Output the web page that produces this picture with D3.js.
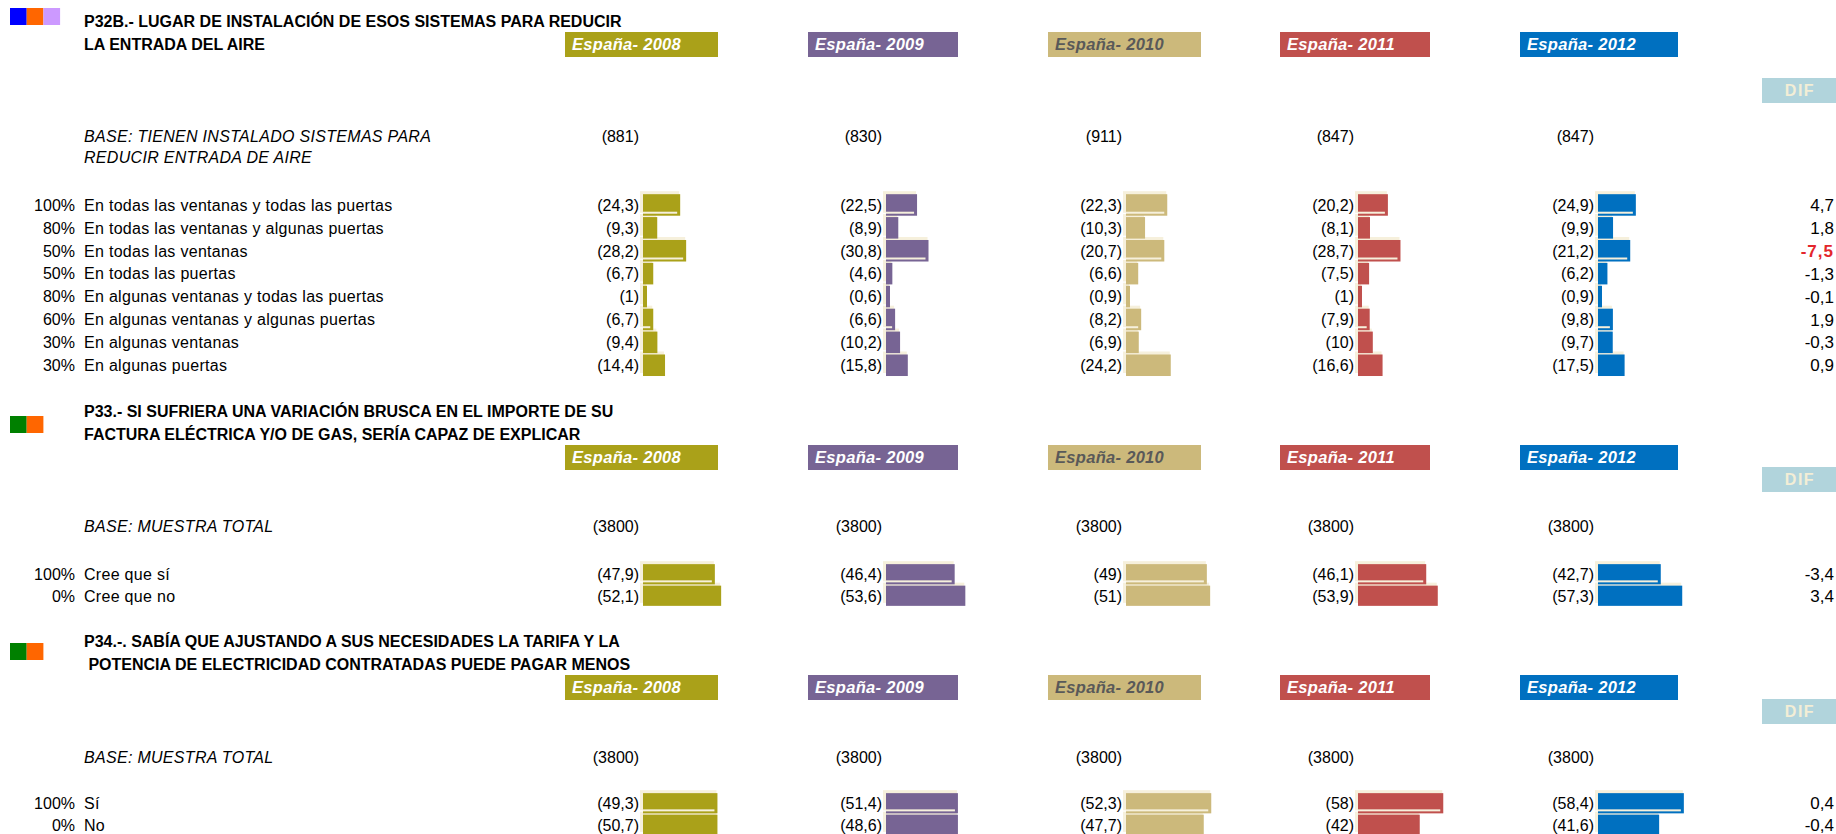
<!DOCTYPE html>
<html>
<head>
<meta charset="utf-8">
<script src="https://cdn.jsdelivr.net/npm/d3@7"></script>
<style>
    body { margin: 0; background: #fff; }
    text { font-family: "Liberation Sans", Arial, sans-serif; }
</style>
</head>
<body>
<div id="chart"></div>
<script>
// Column headers
var years = ["2008", "2009", "2010", "2011", "2012"];
var yearLabels = ["España- 2008", "España- 2009", "España- 2010", "España- 2011", "España- 2012"];

// P32B
var p32Title = ["P32B.- LUGAR DE INSTALACIÓN DE ESOS SISTEMAS PARA REDUCIR", "LA ENTRADA DEL AIRE"];
var p32Base = ["BASE: TIENEN INSTALADO SISTEMAS PARA", "REDUCIR ENTRADA DE AIRE"];
var p32Counts = [881, 830, 911, 847, 847];
var p32Pct = ["100%", "80%", "50%", "50%", "80%", "60%", "30%", "30%"];
var p32Items = [
    "En todas las ventanas y todas las puertas",
    "En todas las ventanas y algunas puertas",
    "En todas las ventanas",
    "En todas las puertas",
    "En algunas ventanas y todas las puertas",
    "En algunas ventanas y algunas puertas",
    "En algunas ventanas",
    "En algunas puertas"
];
var p32Values = [
    [24.3, 9.3, 28.2, 6.7, 1, 6.7, 9.4, 14.4],
    [22.5, 8.9, 30.8, 4.6, 0.6, 6.6, 10.2, 15.8],
    [22.3, 10.3, 20.7, 6.6, 0.9, 8.2, 6.9, 24.2],
    [20.2, 8.1, 28.7, 7.5, 1, 7.9, 10, 16.6],
    [24.9, 9.9, 21.2, 6.2, 0.9, 9.8, 9.7, 17.5]
];
var p32Dif = [4.7, 1.8, -7.5, -1.3, -0.1, 1.9, -0.3, 0.9];

// P33
var p33Title = ["P33.- SI SUFRIERA UNA VARIACIÓN BRUSCA EN EL IMPORTE DE SU", "FACTURA ELÉCTRICA Y/O DE GAS, SERÍA CAPAZ DE EXPLICAR"];
var p33Base = ["BASE: MUESTRA TOTAL"];
var p33Counts = [3800, 3800, 3800, 3800, 3800];
var p33Pct = ["100%", "0%"];
var p33Items = ["Cree que sí", "Cree que no"];
var p33Values = [
    [47.9, 52.1],
    [46.4, 53.6],
    [49, 51],
    [46.1, 53.9],
    [42.7, 57.3]
];
var p33Dif = [-3.4, 3.4];

// P34
var p34Title = ["P34.-. SABÍA QUE AJUSTANDO A SUS NECESIDADES LA TARIFA Y LA", " POTENCIA DE ELECTRICIDAD CONTRATADAS PUEDE PAGAR MENOS"];
var p34Base = ["BASE: MUESTRA TOTAL"];
var p34Counts = [3800, 3800, 3800, 3800, 3800];
var p34Pct = ["100%", "0%"];
var p34Items = ["Sí", "No"];
var p34Values = [
    [49.3, 50.7],
    [51.4, 48.6],
    [52.3, 47.7],
    [58, 42],
    [58.4, 41.6]
];
var p34Dif = [0.4, -0.4];

// Layout
var W = 1836, H = 834;
var yearFill = ["#aaa119", "#776494", "#ccb97b", "#c0504d", "#0070c0"];
var yearInk = ["#ffffff", "#ffffff", "#595959", "#ffffff", "#ffffff"];
var boxX = [565, 808, 1048, 1280, 1520];
var boxW = [153, 150, 153, 150, 158];
var barX = [643, 886, 1126, 1358, 1598];
var cream = "#f6f0dc";

var blocks = [
    {
        title: p32Title, base: p32Base, counts: p32Counts, pct: p32Pct, items: p32Items,
        values: p32Values, dif: p32Dif,
        squares: ["#0000ff", "#ff6600", "#cc99ff"], squareY: 8,
        titleY: 27, boxY: 32, difY: 78, baseY: 142, rowTop: 193.5, step: 22.9,
        span: [153, 138, 185, 148, 152], cap: [100, 100, 100, 100, 100], shine: [0, 2, 5]
    },
    {
        title: p33Title, base: p33Base, counts: p33Counts, pct: p33Pct, items: p33Items,
        values: p33Values, dif: p33Dif,
        squares: ["#008000", "#ff6600"], squareY: 416,
        titleY: 417, boxY: 445, difY: 467, baseY: 532, rowTop: 563.5, step: 21.5,
        span: [150, 148, 165, 148, 147], cap: [100, 100, 100, 100, 100], shine: [0]
    },
    {
        title: p34Title, base: p34Base, counts: p34Counts, pct: p34Pct, items: p34Items,
        values: p34Values, dif: p34Dif,
        squares: ["#008000", "#ff6600"], squareY: 643,
        titleY: 647, boxY: 675, difY: 699, baseY: 763, rowTop: 792.5, step: 21.5,
        span: [151, 148, 163, 147, 147], cap: [49.3, 48.6, 100, 100, 100], shine: [0]
    }
];

function comma(v) {
    return String(v).replace(".", ",");
}

var svg = d3.select("#chart").append("svg")
    .attr("width", W)
    .attr("height", H)
    .style("display", "block");

svg.append("rect")
    .attr("width", W)
    .attr("height", H)
    .attr("fill", "#fff");

blocks.forEach(function (b) {
    var g = svg.append("g");

    // Coloured markers top left
    g.selectAll("rect.sq")
        .data(b.squares)
        .join("rect")
        .attr("class", "sq")
        .attr("x", function (d, i) { return 10 + i * 16.7; })
        .attr("y", b.squareY)
        .attr("width", 16.7)
        .attr("height", 17)
        .attr("fill", function (d) { return d; });

    // Question title
    g.selectAll("text.title")
        .data(b.title)
        .join("text")
        .attr("class", "title")
        .attr("x", 84)
        .attr("y", function (d, i) { return b.titleY + i * 22.5; })
        .style("white-space", "pre")
        .attr("font-size", 16)
        .attr("font-weight", "bold")
        .attr("fill", "#000")
        .text(function (d) { return d; });

    // Year header boxes
    var hdr = g.selectAll("g.hdr")
        .data(years)
        .join("g")
        .attr("class", "hdr");
    hdr.append("rect")
        .attr("x", function (d, j) { return boxX[j]; })
        .attr("y", b.boxY)
        .attr("width", function (d, j) { return boxW[j]; })
        .attr("height", 25)
        .attr("fill", function (d, j) { return yearFill[j]; });
    hdr.append("text")
        .attr("x", function (d, j) { return boxX[j] + 7; })
        .attr("y", b.boxY + 18)
        .attr("font-size", 16.5)
        .attr("font-weight", "bold")
        .attr("font-style", "italic")
        .attr("letter-spacing", 0.3)
        .attr("fill", function (d, j) { return yearInk[j]; })
        .text(function (d, j) { return yearLabels[j]; });

    // DIF box
    g.append("rect")
        .attr("x", 1762)
        .attr("y", b.difY)
        .attr("width", W - 1762)
        .attr("height", 25)
        .attr("fill", "#b1d4dc");
    g.append("text")
        .attr("x", 1800)
        .attr("y", b.difY + 18)
        .attr("text-anchor", "middle")
        .attr("font-family", "DejaVu Sans, Verdana, sans-serif")
        .attr("font-size", 16)
        .attr("font-weight", "bold")
        .attr("letter-spacing", 1.5)
        .attr("fill", "#f3eed6")
        .text("DIF");

    // Base lines and sample sizes
    g.selectAll("text.base")
        .data(b.base)
        .join("text")
        .attr("class", "base")
        .attr("x", 84)
        .attr("y", function (d, i) { return b.baseY + i * 21; })
        .attr("font-size", 16)
        .attr("font-style", "italic")
        .attr("letter-spacing", 0.3)
        .text(function (d) { return d; });
    g.selectAll("text.count")
        .data(b.counts)
        .join("text")
        .attr("class", "count")
        .attr("x", function (d, j) { return barX[j] - 4; })
        .attr("y", b.baseY)
        .attr("text-anchor", "end")
        .attr("font-size", 16)
        .text(function (d) { return "(" + d + ")"; });

    // Row positions
    var y = d3.scaleBand()
        .domain(d3.range(b.items.length))
        .range([b.rowTop, b.rowTop + b.items.length * b.step])
        .paddingInner(0.06)
        .paddingOuter(0.03);
    var mid = function (i) { return y(i) + y.bandwidth() / 2; };

    g.selectAll("text.pct")
        .data(b.pct)
        .join("text")
        .attr("class", "pct")
        .attr("x", 75)
        .attr("y", function (d, i) { return mid(i); })
        .attr("dy", "0.36em")
        .attr("text-anchor", "end")
        .attr("font-size", 16)
        .text(function (d) { return d; });

    g.selectAll("text.item")
        .data(b.items)
        .join("text")
        .attr("class", "item")
        .attr("x", 84)
        .attr("y", function (d, i) { return mid(i); })
        .attr("dy", "0.36em")
        .attr("font-size", 16)
        .attr("letter-spacing", 0.3)
        .text(function (d) { return d; });

    // One small bar chart per year
    years.forEach(function (yr, j) {
        var x = d3.scaleLinear()
            .domain([0, b.cap[j]])
            .range([0, b.span[j] * b.cap[j] / 100])
            .clamp(true);
        var x0 = barX[j];
        var vals = b.values[j];
        var cg = g.append("g");

        // cream strip just above the bars
        cg.selectAll("rect.glow")
            .data(vals)
            .join("rect")
            .attr("class", "glow")
            .attr("x", x0 - 3)
            .attr("y", function (d, i) { return y(i) - 3; })
            .attr("width", function (d) { return Math.max(x(d), 4) + 2; })
            .attr("height", y.bandwidth())
            .attr("fill", cream);

        cg.selectAll("rect.bar")
            .data(vals)
            .join("rect")
            .attr("class", "bar")
            .attr("x", x0)
            .attr("y", function (d, i) { return y(i); })
            .attr("width", function (d) { return Math.max(x(d), 4); })
            .attr("height", y.bandwidth())
            .attr("fill", yearFill[j]);

        // light streak near the bottom of some bars
        cg.selectAll("rect.streak")
            .data(b.shine)
            .join("rect")
            .attr("class", "streak")
            .attr("x", x0)
            .attr("y", function (i) { return y(i) + y.bandwidth() - 4; })
            .attr("width", function (i) { return Math.max(Math.max(x(vals[i]), 4) - 3, 1); })
            .attr("height", 2)
            .attr("fill", cream);

        cg.selectAll("text.val")
            .data(vals)
            .join("text")
            .attr("class", "val")
            .attr("x", x0 - 4)
            .attr("y", function (d, i) { return mid(i); })
            .attr("dy", "0.36em")
            .attr("text-anchor", "end")
            .attr("font-size", 16)
            .text(function (d) { return "(" + comma(d) + ")"; });
    });

    // Difference column
    g.selectAll("text.dif")
        .data(b.dif)
        .join("text")
        .attr("class", "dif")
        .attr("x", 1834)
        .attr("y", function (d, i) { return mid(i); })
        .attr("dy", "0.36em")
        .attr("text-anchor", "end")
        .attr("font-family", "DejaVu Sans, Verdana, sans-serif")
        .attr("font-size", 17)
        .attr("font-weight", function (d) { return Math.abs(d) >= 5 ? "bold" : "normal"; })
        .attr("letter-spacing", function (d) { return Math.abs(d) >= 5 ? 1 : 0; })
        .attr("fill", function (d) { return Math.abs(d) >= 5 ? "#e3262c" : "#000"; })
        .text(function (d) { return comma(d); });
});
</script>
</body>
</html>
